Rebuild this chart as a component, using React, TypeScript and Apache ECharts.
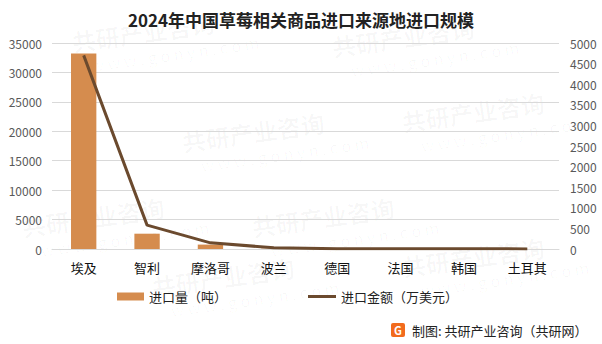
import React, { useEffect, useRef } from "react";
import * as echarts from "echarts";

const categories = ["埃及", "智利", "摩洛哥", "波兰", "德国", "法国", "韩国", "土耳其"];
const volume = [33200, 2600, 750, 60, 20, 15, 10, 8];
const amount = [4700, 580, 150, 30, 8, 6, 4, 3];
const leftTicks = { min: 0, max: 35000, interval: 5000 };
const rightTicks = { min: 0, max: 5000, interval: 500 };
const titleText = "2024年中国草莓相关商品进口来源地进口规模";
const sourceText = "制图: 共研产业咨询（共研网）";
const volumeName = "进口量（吨）";
const amountName = "进口金额（万美元）";

export default function App() {
  const ref = useRef<HTMLDivElement>(null);
  useEffect(() => {
    if (!ref.current) return;
    const chart = echarts.init(ref.current, null, { renderer: "svg" });
    const font = "'Microsoft YaHei', 'Noto Sans CJK SC', sans-serif";
    const wm: any[] = [];
    const wmPos = [
      [70, 30], [330, 35], [180, 130], [400, 110], [20, 215], [250, 215], [150, 275], [400, 255],
    ];
    wmPos.forEach(([x, y]) => {
      wm.push({
        type: "group",
        x,
        y,
        rotation: (8 * Math.PI) / 180,
        silent: true,
        z: -1,
        children: [
          { type: "text", x: 0, y: 0, style: { text: "共研产业咨询", fill: "rgba(0,0,0,0.03)", font: `bold 24px ${font}` } },
          { type: "text", x: 16, y: 30, style: { text: "w w w . g o n y n . c o m", fill: "rgba(0,0,0,0.03)", font: `16px ${font}` } },
        ],
      });
    });
    chart.setOption({
      animation: false,
      backgroundColor: "#fff",
      title: {
        text: titleText,
        left: "center",
        top: 6,
        textStyle: { fontFamily: font, fontSize: 17, fontWeight: "bold", color: "#222" },
      },
      grid: { left: 52, right: 43, top: 43, bottom: 95, containLabel: false },
      legend: [
        {
          top: 290,
          left: 117,
          padding: 0,
          itemWidth: 27,
          itemHeight: 8,
          itemGap: 4,
          textStyle: { fontFamily: font, fontSize: 13, color: "#222" },
          data: [{ name: volumeName, icon: "rect" }],
        },
        {
          top: 290,
          left: 308,
          padding: 0,
          itemWidth: 28,
          itemHeight: 3,
          textStyle: { fontFamily: font, fontSize: 13, color: "#222" },
          data: [{ name: amountName, icon: "rect", itemStyle: { color: "#6B4A2E" } }],
        },
      ],
      xAxis: {
        type: "category",
        data: categories,
        axisLine: { lineStyle: { color: "#d9d9d9" } },
        axisTick: { show: false },
        axisLabel: { fontFamily: font, fontSize: 13, color: "#111", margin: 12 },
      },
      yAxis: [
        {
          type: "value",
          ...leftTicks,
          axisLine: { show: false },
          axisTick: { show: false },
          splitLine: { lineStyle: { color: "#d9d9d9" } },
          axisLabel: { fontFamily: font, fontSize: 12, color: "#595959", margin: 10, formatter: (v: number) => String(v) },
        },
        {
          type: "value",
          ...rightTicks,
          axisLine: { show: false },
          axisTick: { show: false },
          splitLine: { show: false },
          axisLabel: { fontFamily: font, fontSize: 12, color: "#595959", margin: 11, formatter: (v: number) => String(v) },
        },
      ],
      series: [
        {
          name: volumeName,
          type: "bar",
          data: volume,
          barWidth: "40%",
          itemStyle: { color: "#D58C4E" },
          yAxisIndex: 0,
        },
        {
          name: amountName,
          type: "line",
          data: amount,
          yAxisIndex: 1,
          symbol: "none",
          lineStyle: { color: "#6B4A2E", width: 3 },
          itemStyle: { color: "#6B4A2E" },
        },
      ],
      graphic: [
        ...wm,
        {
          type: "rect",
          x: 391,
          y: 323,
          shape: { width: 14, height: 14, r: 2 },
          style: { fill: "#F26B1D" },
        },
        {
          type: "text",
          x: 398,
          y: 330,
          style: { text: "G", fill: "#fff", font: `bold 11px ${font}`, textAlign: "center", textVerticalAlign: "middle" },
        },
        {
          type: "text",
          x: 412,
          y: 330,
          style: { text: sourceText, fill: "#222", font: `13px ${font}`, textVerticalAlign: "middle" },
        },
      ],
    });
    return () => chart.dispose();
  }, []);
  return <div ref={ref} style={{ width: 602, height: 344, position: "absolute", left: 0, top: 0 }} />;
}
